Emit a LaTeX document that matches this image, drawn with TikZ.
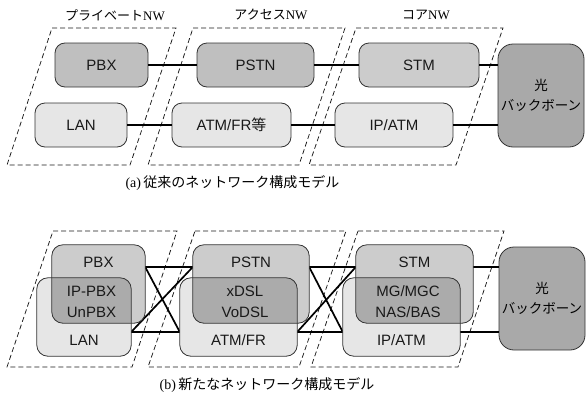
\documentclass[tikz,border=0pt]{standalone}
\usepackage{fontspec}
\setmainfont{Liberation Sans}
\newfontfamily\jp{Noto Sans CJK JP}
\newfontfamily\ser{Liberation Serif}
\definecolor{cdark}{HTML}{BFBFBF}
\definecolor{cmid}{HTML}{CCCCCC}
\definecolor{clight}{HTML}{E6E6E6}
\definecolor{cbb}{HTML}{A9A9A9}
\definecolor{covl}{HTML}{ABABAB}
\definecolor{cedge}{HTML}{333333}
\begin{document}
\begin{tikzpicture}[x=1pt,y=-1pt,
  box/.style={rounded corners=10pt, draw=cedge, line width=0.8pt, minimum height=44pt, inner sep=0pt, text=black!90, font=\fontsize{15}{18}\selectfont},
  bbox/.style={rounded corners=15pt, draw=cedge, line width=0.8pt, fill=cbb, inner sep=0pt, align=center, minimum width=86pt, minimum height=103pt, font=\jp\fontsize{13.5}{20}\selectfont},
  shp/.style={rectangle, inner sep=0pt, minimum height=78pt},
  rfill/.style={rounded corners=11pt},
  redge/.style={rounded corners=11pt, draw=cedge, line width=0.8pt},
  txt/.style={inner sep=0pt, text=black!90, align=center, font=\fontsize{15}{21}\selectfont},
  zone/.style={draw=black!90, line width=0.75pt, dash pattern=on 5pt off 3pt},
  conn/.style={line width=1.3pt, black},
  xline/.style={line width=1.7pt, black},
  zlabel/.style={inner sep=0pt, font=\fontsize{13}{15}\selectfont},
  captext/.style={inner sep=0pt, font=\fontsize{14}{16}\selectfont}
]
\useasboundingbox (0,0) rectangle (586,399);

% ---------- (a) ----------
\draw[zone] (52,28) -- (176,28) -- (130,165) -- (7,165) -- cycle;
\draw[zone] (193,28) -- (345,28) -- (299,165) -- (148,165) -- cycle;
\draw[zone] (356,28) -- (503,28) -- (456,165) -- (309,165) -- cycle;
\node[zlabel] (zl1) at (115,15) {{\jp プライベート}{\ser NW}};
\node[zlabel] (zl2) at (271,15) {{\jp アクセス}{\ser NW}};
\node[zlabel] (zl3) at (426,15) {{\jp コア}{\ser NW}};

\node[box, fill=cdark, minimum width=93pt] (pbx) at (101.5,65) {PBX};
\node[box, fill=cdark, minimum width=117pt] (pstn) at (255.5,65) {PSTN};
\node[box, fill=cmid, minimum width=120pt] (stm) at (419,65) {STM};
\node[box, fill=clight, minimum width=92pt] (lan) at (81,125) {LAN};
\node[box, fill=clight, minimum width=119pt] (atm) at (231.5,125) {ATM/FR{\jp 等}};
\node[box, fill=clight, minimum width=118pt] (ip) at (394,125) {IP/ATM};
\node[bbox] (bb) at (541,95.5) {光\\バックボーン};

\draw[conn] (pbx.east) -- (pstn.west);
\draw[conn] (pstn.east) -- (stm.west);
\draw[conn] (stm.east) -- (stm.east -| bb.west);
\draw[conn] (lan.east) -- (atm.west);
\draw[conn] (atm.east) -- (ip.west);
\draw[conn] (ip.east) -- (ip.east -| bb.west);

\node[captext] (capa) at (232.5,183) {{\ser (a)}\,{\jp 従来のネットワーク構成モデル}};

% ---------- (b) ----------
\draw[zone] (53,231) -- (177,231) -- (132,367) -- (7,367) -- cycle;
\draw[zone] (195,231) -- (346,231) -- (299,367) -- (148,367) -- cycle;
\draw[zone] (358,231) -- (504,231) -- (458,367) -- (311,367) -- cycle;

\node[shp, minimum width=93pt] (pbx2) at (98.5,284) {};
\node[shp, minimum width=94pt] (lan2) at (84,317) {};
\node[shp, minimum width=116pt] (pstn2) at (251,284) {};
\node[shp, minimum width=117pt] (atm2) at (238.5,317) {};
\node[shp, minimum width=117pt] (stm2) at (414.5,284) {};
\node[shp, minimum width=117pt] (ip2) at (401.5,317) {};
\node[bbox] (bb2) at (542,298.5) {光\\バックボーン};

% connectors
\coordinate (p1a) at ([yshift=17pt]pbx2.east);
\coordinate (p1b) at ([yshift=-15pt]lan2.east);
\coordinate (p2a) at ([yshift=17pt]pstn2.west);
\coordinate (p2b) at ([yshift=-15pt]atm2.west);
\coordinate (p2c) at ([yshift=17pt]pstn2.east);
\coordinate (p2d) at ([yshift=-15pt]atm2.east);
\coordinate (p3a) at ([yshift=17pt]stm2.west);
\coordinate (p3b) at ([yshift=-15pt]ip2.west);
\coordinate (p3c) at ([yshift=17pt]stm2.east);
\coordinate (p3d) at ([yshift=-15pt]ip2.east);
\draw[xline] (p1a) -- (p2a);
\draw[xline] (p1b) -- (p2b);
\draw[xline] (p1a) -- (p2b);
\draw[xline] (p1b) -- (p2a);
\draw[xline] (p2c) -- (p3a);
\draw[xline] (p2d) -- (p3b);
\draw[xline] (p2c) -- (p3b);
\draw[xline] (p2d) -- (p3a);
\draw[conn] (p3c) -- (p3c -| bb2.west);
\draw[conn] (p3d) -- (p3d -| bb2.west);

% overlapping boxes
\foreach \u/\l in {pbx2/lan2, pstn2/atm2, stm2/ip2}{
  \fill[cmid, rfill] (\u.south west) rectangle (\u.north east);
  \fill[clight, rfill] (\l.south west) rectangle (\l.north east);
  \begin{scope}
    \clip[rfill] (\u.south west) rectangle (\u.north east);
    \fill[covl, rfill] (\l.south west) rectangle (\l.north east);
  \end{scope}
  \draw[redge] (\u.south west) rectangle (\u.north east);
  \draw[redge] (\l.south west) rectangle (\l.north east);
}

\node[txt] (t1) at (98.5,262) {PBX};
\node[txt] (t2) at (91.5,302) {IP-PBX\\UnPBX};
\node[txt] (t3) at (84,340) {LAN};
\node[txt] (t4) at (251,262) {PSTN};
\node[txt] (t5) at (245,302) {xDSL\\VoDSL};
\node[txt] (t6) at (238.5,340) {ATM/FR};
\node[txt] (t7) at (414.5,262) {STM};
\node[txt] (t8) at (408,302) {MG/MGC\\NAS/BAS};
\node[txt] (t9) at (401.5,340) {IP/ATM};

\node[captext] (capb) at (267,385) {{\ser (b)}\,{\jp 新たなネットワーク構成モデル}};
\end{tikzpicture}
\end{document}
